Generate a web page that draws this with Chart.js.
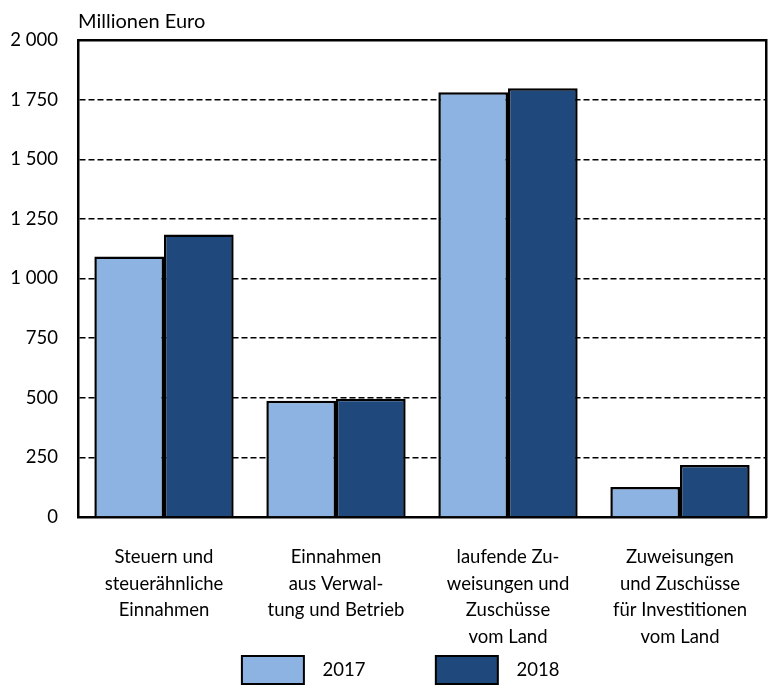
<!DOCTYPE html>
<html>
<head>
<meta charset="utf-8">
<script src="https://cdn.jsdelivr.net/npm/chart.js@4"></script>
<style>
  html, body { margin: 0; padding: 0; background: #fff; }
  #wrap { width: 772px; height: 685px; }
</style>
</head>
<body>
<div id="wrap"><canvas id="revenueChart" width="772" height="685"></canvas></div>
<script>
const categories = [
    ['Steuern und', 'steuerähnliche', 'Einnahmen'],
    ['Einnahmen', 'aus Verwal-', 'tung und Betrieb'],
    ['laufende Zu-', 'weisungen und', 'Zuschüsse', 'vom Land'],
    ['Zuweisungen', 'und Zuschüsse', 'für Investitionen', 'vom Land']
];
const values2017 = [1092, 487, 1781, 126];
const values2018 = [1185, 496, 1798, 218];
const yTickLabels = ['0', '250', '500', '750', '1 000', '1 250', '1 500', '1 750', '2 000'];

const fontFamily = 'Lato, "Noto Sans", sans-serif';

const ctx = document.getElementById('revenueChart').getContext('2d');

const revenueChart = new Chart(ctx, {
    type: 'bar',
    data: {
        labels: categories,
        datasets: [{
            label: '2017',
            data: values2017,
            backgroundColor: '#8db3e2',
            borderColor: '#000',
            borderWidth: 2.5
        },
        {
            label: '2018',
            data: values2018,
            backgroundColor: '#1f497d',
            borderColor: '#000',
            borderWidth: 2.5
        }]
    },
    options: {
        responsive: false,
        animation: false,
        devicePixelRatio: 1,
        barPercentage: 1,
        categoryPercentage: 0.81,
        layout: {
            padding: { left: 8, right: 6, top: 0, bottom: -9 }
        },
        plugins: {
            title: {
                display: true,
                text: 'Millionen Euro',
                align: 'start',
                fullSize: false,
                color: '#000',
                font: { family: fontFamily, size: 20, weight: 'normal' },
                padding: { top: 10, bottom: 6 }
            },
            legend: {
                position: 'bottom',
                fullSize: false,
                labels: {
                    boxWidth: 62,
                    boxHeight: 28,
                    color: '#000',
                    padding: 4,
                    font: { family: fontFamily, size: 18.5 },
                    generateLabels: function(chart) {
                        // spaces stand in for the wide gaps of the original legend
                        const pads = ['              ', '         '];
                        return chart.data.datasets.map((ds, i) => ({
                            text: '  ' + ds.label + pads[i],
                            fillStyle: ds.backgroundColor,
                            strokeStyle: '#000',
                            lineWidth: 2,
                            hidden: false,
                            datasetIndex: i
                        }));
                    }
                }
            },
            tooltip: { enabled: false }
        },
        scales: {
            x: {
                position: 'bottom',
                grid: { display: false, drawTicks: false },
                border: { display: true, color: '#000', width: 2.5 },
                ticks: {
                    color: '#000',
                    padding: 27,
                    maxRotation: 0,
                    autoSkip: false,
                    font: { family: fontFamily, size: 18.5, lineHeight: 1.43 }
                },
                afterFit: function(scale) {
                    scale.height = 135;
                    scale.paddingLeft = 0;
                    scale.paddingRight = 0;
                }
            },
            xTop: {
                position: 'top',
                grid: { display: false, drawTicks: false },
                border: { display: true, color: '#000', width: 2.5 },
                ticks: { display: false },
                afterFit: function(scale) { scale.height = 0; }
            },
            y: {
                min: 0,
                max: 2000,
                grid: {
                    color: function(c) { return (c.tick && c.tick.value === 2000) ? 'rgba(0,0,0,0)' : '#000'; },
                    lineWidth: 1.5,
                    drawTicks: false
                },
                border: { display: true, color: '#000', width: 2.5, dash: [6, 3] },
                ticks: {
                    stepSize: 250,
                    color: '#000',
                    padding: 20,
                    font: { family: fontFamily, size: 18.5 },
                    callback: function(value, index) { return yTickLabels[index]; }
                },
                afterFit: function(scale) { scale.width = 70; }
            },
            yRight: {
                position: 'right',
                min: 0,
                max: 2000,
                grid: { display: false, drawTicks: false },
                border: { display: true, color: '#000', width: 2.5 },
                ticks: { display: false },
                afterFit: function(scale) { scale.width = 0; }
            }
        }
    }
});
</script>
</body>
</html>
